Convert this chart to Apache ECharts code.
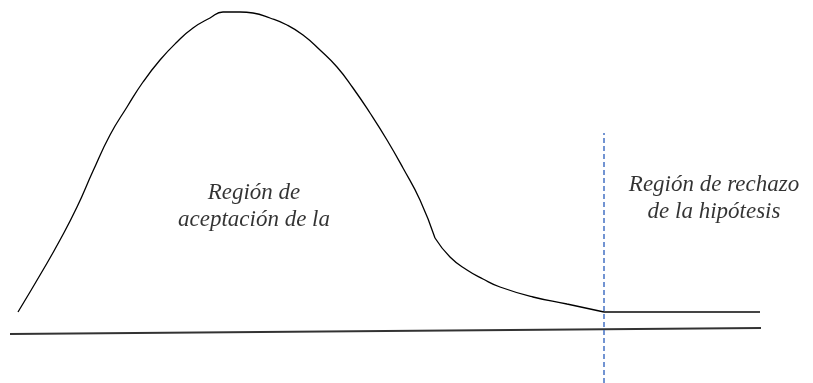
<!DOCTYPE html>
<html>
<head>
<meta charset="utf-8">
<script src="https://cdn.jsdelivr.net/npm/echarts@6/dist/echarts.min.js"></script>
<style>
  html, body { margin: 0; padding: 0; background: #fff; }
  #chart { width: 813px; height: 383px; }
</style>
</head>
<body>
<div id="chart"></div>
<script>
// bell part of the curve (x, height above the bottom edge)
var bellX = [18, 43, 60, 77, 93, 110, 127, 143, 160, 177, 193, 210, 223, 240, 253, 270, 287, 303, 320, 337, 353, 370, 387, 403, 420, 435];
var bellY = [71, 113, 143, 176, 212, 248, 276, 301, 323, 341, 355, 365, 371, 371, 370, 365, 358, 348, 333, 316, 295, 270, 243, 215, 183, 145];
// tail after the kink
var tailX = [435, 450, 467, 483, 500, 533, 567, 604];
var tailY = [145, 126, 113, 104, 96, 86, 79, 71];
// flat part in the rejection region
var flatX = [604, 760];
var flatY = [71, 71];
// horizontal axis line (slightly tilted)
var baseX = [10, 761];
var baseY = [49, 55];
// critical value (dashed line)
var critX = 604;
var critY = [0, 250];
// region labels
var labelText = ['Región de\naceptación de la', 'Región de rechazo\nde la hipótesis'];
var labelX = [254, 714];
var labelY = [177, 185];

function pairs(xs, ys) {
  return xs.map(function (x, i) { return [x, ys[i]]; });
}

var serif = '"Times New Roman", "Liberation Serif", "DejaVu Serif", serif';

var chart = echarts.init(document.getElementById('chart'));
var option = {
  animation: false,
  textStyle: { fontFamily: serif },
  grid: { left: 0, right: 0, top: 0, bottom: 0 },
  xAxis: { type: 'value', min: 0, max: 813, show: false },
  yAxis: { type: 'value', min: 0, max: 383, show: false },
  series: [
    {
      name: 'bell', type: 'line', data: pairs(bellX, bellY),
      smooth: 0.5, showSymbol: false,
      lineStyle: { color: '#000', width: 1.3 }
    },
    {
      name: 'tail', type: 'line', data: pairs(tailX, tailY),
      smooth: 0.5, showSymbol: false,
      lineStyle: { color: '#000', width: 1.3 }
    },
    {
      name: 'flat', type: 'line', data: pairs(flatX, flatY),
      showSymbol: false,
      lineStyle: { color: '#454545', width: 2 }
    },
    {
      name: 'base', type: 'line', data: pairs(baseX, baseY),
      showSymbol: false,
      lineStyle: { color: '#333', width: 2 }
    },
    {
      name: 'crit', type: 'line', data: [[critX, critY[0]], [critX, critY[1]]],
      showSymbol: false,
      lineStyle: { color: '#4472C4', width: 1.5, type: [5, 3] }
    },
    {
      name: 'labels', type: 'scatter', symbolSize: 0,
      data: labelX.map(function (x, i) { return { value: [x, labelY[i]], name: labelText[i] }; }),
      label: {
        show: true, position: 'inside',
        formatter: function (p) { return p.name; },
        fontFamily: serif, fontStyle: 'italic', fontWeight: 'normal',
        fontSize: 23, lineHeight: 27, color: '#000',
        align: 'center', verticalAlign: 'middle'
      }
    }
  ]
};
chart.setOption(option);
</script>
</body>
</html>
